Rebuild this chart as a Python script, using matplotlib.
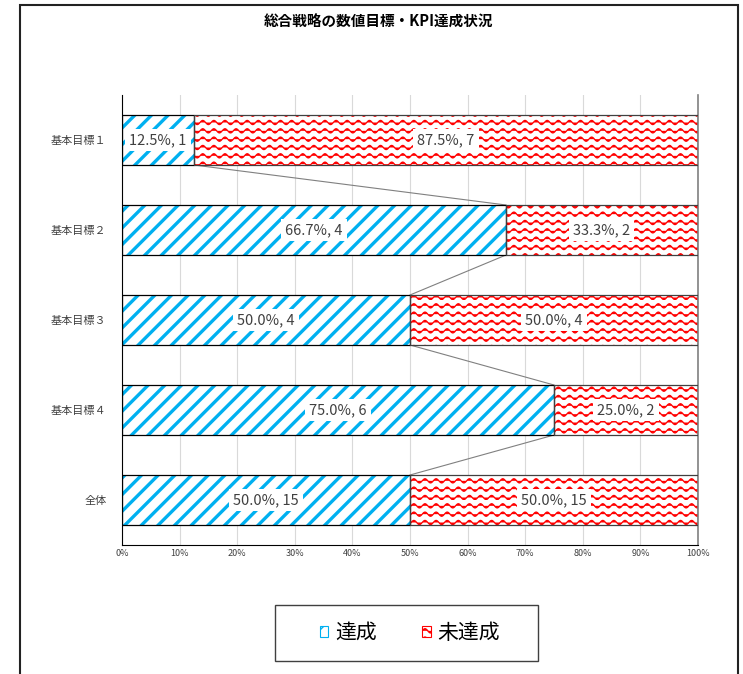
import warnings
warnings.filterwarnings('ignore')
import numpy as np
import matplotlib
matplotlib.use('Agg')
import matplotlib.pyplot as plt
import matplotlib.hatch as mhatch
from matplotlib.path import Path
from matplotlib.patches import Rectangle

plt.rcParams['font.family'] = ['Noto Sans CJK JP', 'DejaVu Sans']

categories = ['基本目標１', '基本目標２', '基本目標３', '基本目標４', '全体']
achieved = [1, 4, 4, 6, 15]
not_achieved = [7, 2, 4, 2, 15]
series_names = ['達成', '未達成']
title = '総合戦略の数値目標・KPI達成状況'
xticks = [0, 10, 20, 30, 40, 50, 60, 70, 80, 90, 100]

BLUE = '#00B0F0'
RED = '#FF0000'


class WaveHatch(mhatch.HatchPatternBase):
    def __init__(self, hatch, density):
        n = hatch.count('~')
        self.num_lines = 12 * n
        self.npts = 181
        self.num_vertices = self.num_lines * self.npts

    def set_vertices_and_codes(self, vertices, codes):
        ys = (np.arange(self.num_lines) + 0.3) / self.num_lines
        xs = np.linspace(0, 1, self.npts)
        wave = 0.021 * np.sin(2 * np.pi * 9 * xs)
        for i, yy in enumerate(ys):
            s = slice(i * self.npts, (i + 1) * self.npts)
            vertices[s, 0] = xs
            vertices[s, 1] = yy + wave
            codes[s] = Path.LINETO
            codes[i * self.npts] = Path.MOVETO


mhatch._hatch_types.append(WaveHatch)

a = np.array(achieved, float)
b = np.array(not_achieved, float)
tot = a + b
pa = a / tot * 100
pb = b / tot * 100

fig = plt.figure(figsize=(7.43, 6.74), dpi=100)
ax = fig.add_axes([122 / 743, 129 / 674, 576 / 743, 450 / 674])

y = np.arange(len(categories))
h = 50 / 90

with plt.rc_context({'hatch.linewidth': 2.4}):
    bars_a = ax.barh(y, pa, height=h, color='white', edgecolor=BLUE, hatch='//', linewidth=0, zorder=2,
                     label=series_names[0])
for p in bars_a:
    if hasattr(p, 'set_hatch_linewidth'):
        p.set_hatch_linewidth(2.4)
with plt.rc_context({'hatch.linewidth': 0.9}):
    bars_b = ax.barh(y, pb, left=pa, height=h, color='white', edgecolor=RED, hatch='~', linewidth=0, zorder=2,
                     label=series_names[1])
for p in bars_b:
    if hasattr(p, 'set_hatch_linewidth'):
        p.set_hatch_linewidth(0.9)

ax.barh(y, pa, height=h, facecolor='none', edgecolor='black', linewidth=0.9, zorder=3)
ax.barh(y, pb, left=pa, height=h, facecolor='none', edgecolor='#404040', linewidth=0.9, zorder=3)

# series lines
for i in range(len(categories) - 1):
    ax.plot([pa[i], pa[i + 1]], [y[i] + h / 2, y[i + 1] - h / 2], color='#808080', lw=0.8, zorder=1)

lbl_kw = dict(ha='center', va='center', fontsize=10.5, color='#404040', zorder=5,
              bbox=dict(facecolor='white', edgecolor='none', pad=2.8))
for i in range(len(categories)):
    ax.text(pa[i] / 2, y[i], f'{pa[i]:.1f}%, {achieved[i]}', **lbl_kw)
    ax.text(pa[i] + pb[i] / 2, y[i], f'{pb[i]:.1f}%, {not_achieved[i]}', **lbl_kw)

ax.set_xlim(0, 100)
ax.set_ylim(len(categories) - 0.5, -0.5)
ax.set_xticks(xticks)
ax.set_xticklabels([f'{t}%' for t in xticks], fontsize=6.5, color='#404040')
ax.set_yticks(y)
ax.set_yticklabels(categories, fontsize=8, color='#404040')
ax.tick_params(axis='y', length=0, pad=11)
ax.tick_params(axis='x', length=0, pad=3)
ax.grid(axis='x', color='#d9d9d9', lw=0.8, zorder=0)
ax.set_axisbelow(True)
ax.spines['top'].set_visible(False)
ax.spines['right'].set_color('#808080')
ax.spines['right'].set_linewidth(1.2)
ax.spines['left'].set_color('black')
ax.spines['bottom'].set_color('black')

fig.text(378 / 743, 1 - 22 / 674, title, ha='center', va='center', fontsize=10.5, fontweight='bold')

# legend box
fig.patches.append(Rectangle((275 / 743, 1 - 661 / 674), 263 / 743, 56 / 674, transform=fig.transFigure,
                             fill=False, edgecolor='#404040', linewidth=1.0))
leg = fig.legend(handles=[bars_a[0], bars_b[0]], labels=series_names, loc='center',
                 bbox_to_anchor=(410 / 743, 1 - 633 / 674),
                 ncol=2, fontsize=15, frameon=False,
                 handlelength=0.4, handleheight=0.4, handletextpad=0.33, columnspacing=2.2,
                 borderpad=0.2, borderaxespad=0)
for hnd in leg.legend_handles:
    hnd.set_linewidth(0.8)

# figure border
fig.patches.append(Rectangle((20 / 743, -0.1), 718 / 743, 1.1 - 5 / 674, transform=fig.transFigure,
                             fill=False, edgecolor='#222222', linewidth=1.5))

fig.savefig('out.png', dpi=100)
